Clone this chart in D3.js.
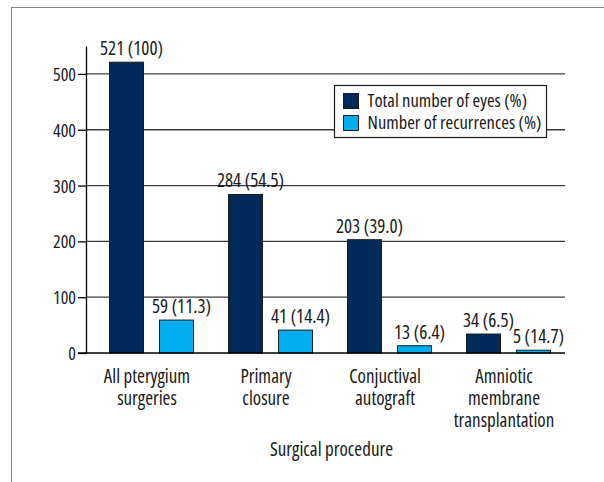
<!DOCTYPE html>
<html>
<head>
<meta charset="utf-8">
<script src="https://cdn.jsdelivr.net/npm/d3@7"></script>
<style>
	body { margin: 0; background: #fff; }
	svg text { font-family: "Open Sans", sans-serif; font-stretch: 75%; fill: #1a1a1a; }
</style>
</head>
<body>
<div id="chart"></div>
<script>

// categories, one line per array entry
var categories = [
	["All pterygium", "surgeries"],
	["Primary", "closure"],
	["Conjuctival", "autograft"],
	["Amniotic", "membrane", "transplantation"]
];
var seriesNames = ["Total number of eyes (%)", "Number of recurrences (%)"];
var totalEyes = [521, 284, 203, 34];
var totalPct = ["100", "54.5", "39.0", "6.5"];
var recurrences = [59, 41, 13, 5];
var recurrencePct = ["11.3", "14.4", "6.4", "14.7"];
var yTicks = [0, 100, 200, 300, 400, 500];
var colors = ["#002a5a", "#00adee"];

var width = 604, height = 482;

var svg = d3.select("#chart").append("svg")
	.attr("width", width).attr("height", height);

// grey frame around the figure (only top and left edges show)
svg.append("rect")
	.attr("x", 11.5).attr("y", 7.5)
	.attr("width", 620).attr("height", 500)
	.attr("fill", "none").attr("stroke", "#8a8a8a").attr("stroke-width", 1);

var axisX = 86, plotRight = 565;

var y = d3.scaleLinear().domain([0, 550]).range([353, 46]);

var x0 = d3.scaleBand()
	.domain(d3.range(categories.length))
	.range([92.5, 568.5]);

var x1 = d3.scaleBand()
	.domain([0, 1])
	.range([17, 101])
	.paddingInner(0.32);

// gridlines
svg.append("g").selectAll("line")
	.data(yTicks.filter(function(d){ return d > 0; }))
	.enter().append("line")
	.attr("x1", axisX).attr("x2", plotRight)
	.attr("y1", function(d){ return y(d); })
	.attr("y2", function(d){ return y(d); })
	.attr("stroke", "#3a3a3a").attr("stroke-width", 1.3);

// bars
var groups = svg.append("g").selectAll("g")
	.data(categories)
	.enter().append("g")
	.attr("transform", function(d, i){ return "translate(" + x0(i) + ",0)"; });

var rows = categories.map(function(c, i){
	return [
		{ v: totalEyes[i], label: totalEyes[i] + " (" + totalPct[i] + ")" },
		{ v: recurrences[i], label: recurrences[i] + " (" + recurrencePct[i] + ")" }
	];
});

groups.selectAll("rect")
	.data(function(d, i){ return rows[i]; })
	.enter().append("rect")
	.attr("x", function(d, j){ return x1(j); })
	.attr("y", function(d){ return y(d.v); })
	.attr("width", x1.bandwidth())
	.attr("height", function(d){ return y(0) - y(d.v); })
	.attr("fill", function(d, j){ return colors[j]; })
	.attr("stroke", "#1c1c1c").attr("stroke-width", 1);

// value labels above bars
groups.selectAll("text.value")
	.data(function(d, i){ return rows[i]; })
	.enter().append("text")
	.attr("class", "value")
	.attr("x", function(d, j){ return x1(j) + x1.bandwidth()/2 + 5; })
	.attr("y", function(d){ return y(d.v) - 7; })
	.attr("text-anchor", "middle")
	.attr("font-size", 19)
	.text(function(d){ return d.label; });

// y axis
var yAxis = d3.axisLeft(y)
	.tickValues(yTicks)
	.tickSizeInner(8)
	.tickSizeOuter(0)
	.tickPadding(2);

var gY = svg.append("g")
	.attr("transform", "translate(" + axisX + ",0)")
	.call(yAxis);
gY.select(".domain").attr("stroke", "#000").attr("stroke-width", 1.3);
gY.selectAll(".tick line").attr("stroke", "#000").attr("stroke-width", 1.3);
gY.selectAll(".tick text")
	.attr("font-size", 18)
	.attr("dy", "0.36em");

// baseline
svg.append("line")
	.attr("x1", axisX - 8).attr("x2", plotRight)
	.attr("y1", y(0)).attr("y2", y(0))
	.attr("stroke", "#000").attr("stroke-width", 1.5);

// category labels
var catLabels = svg.append("g").selectAll("text")
	.data(categories)
	.enter().append("text")
	.attr("text-anchor", "middle")
	.attr("font-size", 19)
	.attr("transform", function(d, i){
		return "translate(" + (x0(i) + x0.bandwidth()/2 - 5) + ",383)";
	});

catLabels.selectAll("tspan")
	.data(function(d){ return d; })
	.enter().append("tspan")
	.attr("x", 0)
	.attr("y", function(d, k){ return k * 22; })
	.text(function(d){ return d; });

// axis title
svg.append("text")
	.attr("x", (axisX + plotRight)/2 + 6)
	.attr("y", 456)
	.attr("text-anchor", "middle")
	.attr("font-size", 19)
	.text("Surgical procedure");

// legend
var legend = svg.append("g").attr("transform", "translate(334.5,85.5)");
legend.append("rect")
	.attr("width", 212).attr("height", 52)
	.attr("fill", "#fff").attr("stroke", "#1c1c1c").attr("stroke-width", 1.2);

var legendItems = legend.selectAll("g")
	.data(seriesNames)
	.enter().append("g")
	.attr("transform", function(d, i){ return "translate(9," + (8 + i * 22) + ")"; });

legendItems.append("rect")
	.attr("width", 15).attr("height", 15)
	.attr("fill", function(d, i){ return colors[i]; })
	.attr("stroke", "#1c1c1c").attr("stroke-width", 1);

legendItems.append("text")
	.attr("x", 24).attr("y", 13.5)
	.attr("font-size", 18.5)
	.text(function(d){ return d; });

</script>
</body>
</html>
